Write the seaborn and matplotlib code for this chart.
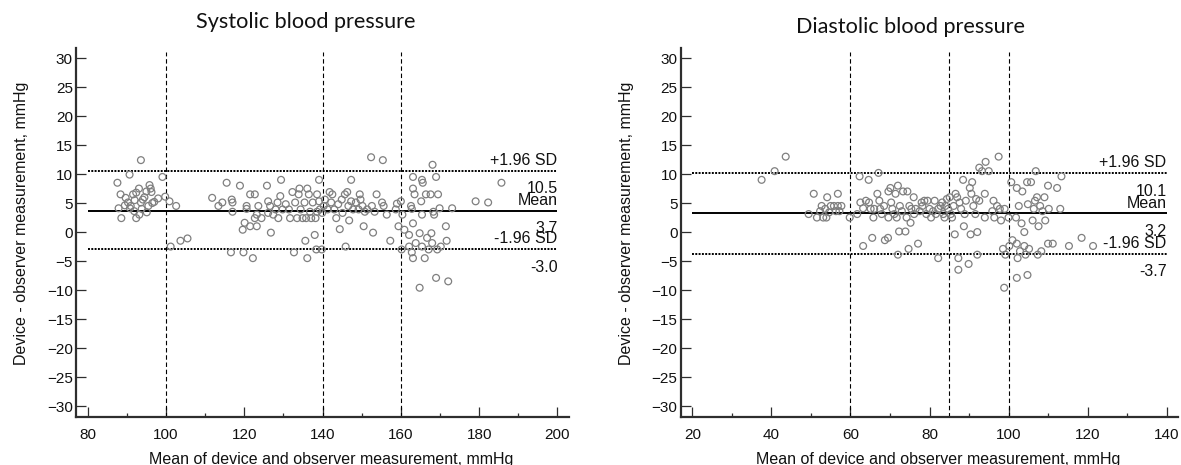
import matplotlib
matplotlib.use("Agg")
import matplotlib.pyplot as plt
import seaborn as sns
import numpy as np
import pandas as pd
from matplotlib.ticker import MultipleLocator

# ---------------- data ----------------
sys_mean = [87.6, 87.9, 88.4, 88.6, 90.7, 89.7, 90.3, 90.8, 91.6, 91.9, 92.4, 92.4, 93.1, 93.2,
            93.6, 93.6, 94.1, 95.1, 95.5, 95.8, 96.1, 96.3, 97.0, 98.0, 99.1, 99.8, 100.9, 101.2,
            102.6, 103.7, 105.5, 94.5, 92.0, 95.0, 91.0, 96.5, 89.5, 93.8,
            111.8, 113.4, 114.4, 115.5, 116.8, 117.0, 117.0, 116.6, 118.9, 119.6, 119.8, 120.1,
            120.6, 120.6, 121.5, 121.5, 122.2, 122.7, 122.7, 123.2, 123.2, 123.6, 124.4, 125.8,
            126.1, 126.1, 126.8, 126.6, 127.4, 128.0, 128.5, 128.7, 129.2, 129.4, 129.8, 130.6,
            131.4, 131.7, 132.3, 132.7, 133.0, 133.5, 133.9, 134.1, 134.4, 134.9, 135.4, 135.6,
            135.8, 136.1, 136.1, 136.5, 136.8, 137.1, 137.5, 138.0, 138.2, 138.4, 138.6, 138.6,
            139.1, 139.1, 139.3, 139.8, 139.9, 140.3, 140.6, 141.3, 141.8, 142.2, 142.5, 143.0,
            143.5, 144.0, 144.4, 144.9, 145.1, 145.7, 145.9, 146.3, 146.6, 146.8, 147.3, 147.3,
            147.8, 148.5, 149.2, 149.5, 149.7, 150.2, 150.5, 150.8, 151.4, 152.4, 152.6, 152.9,
            153.3, 153.8, 155.4, 155.2, 155.6, 156.4, 157.3, 158.7, 159.0, 159.4, 160.0, 160.2,
            160.4, 160.9, 162.1, 162.6, 162.8, 163.1, 163.1, 163.1, 163.1, 163.5, 162.1, 162.8,
            163.8, 164.8, 164.8, 165.2, 165.4, 165.6, 165.4, 165.4, 166.1, 166.4, 166.7, 167.1,
            167.6, 167.8, 168.0, 168.1, 168.3, 168.5, 169.0, 169.0, 169.3, 169.5, 169.9, 170.2,
            171.5, 171.7, 172.1, 173.1, 179.1, 182.3, 185.7]
sys_diff = [8.5, 4.1, 6.5, 2.4, 9.9, 5.9, 5.1, 4.1, 6.5, 3.6, 6.8, 2.4, 7.5, 3.0,
            12.4, 5.1, 5.6, 3.4, 4.5, 8.1, 7.5, 6.9, 5.2, 5.8, 9.5, 6.1, 5.3, -2.5,
            4.5, -1.5, -1.1, 6.0, 5.5, 7.0, 4.5, 5.0, 4.6, 4.0,
            5.9, 4.5, 5.1, 8.5, 5.6, 5.1, 3.5, -3.5, 8.0, 0.4, -3.5, 1.6,
            4.5, 4.0, 6.5, 1.0, -4.5, 6.5, 2.4, 1.0, 3.0, 4.5, 2.4, 8.0,
            5.3, 3.3, -0.1, 4.5, 3.0, 3.9, 5.1, 2.4, 6.2, 9.0, 3.9, 4.8,
            3.9, 2.4, 6.9, -3.5, 5.1, 2.4, 6.5, 7.5, 3.9, 2.4, 5.1, -1.5,
            2.4, 7.5, -4.5, 6.5, 3.5, 2.4, 5.1, -0.5, 2.4, -3.0, 6.5, 3.5,
            9.0, 5.3, 3.9, -3.0, 3.3, 4.5, 5.6, 3.9, 6.9, 5.1, 6.5, 3.9,
            2.4, 4.8, 0.5, 5.6, 3.3, 6.5, -2.5, 6.9, 4.5, 2.0, 9.0, 5.3,
            3.9, 5.1, 3.9, 6.5, 5.6, 4.5, 1.0, 3.5, 3.9, 12.9, 4.5, -0.1,
            3.5, 6.5, 12.4, 5.1, 4.5, 3.0, -1.5, 3.9, 4.9, 1.0, 5.3, -3.0,
            3.0, 0.4, -0.5, 4.5, 4.0, 9.5, 7.5, 1.5, -4.5, 6.5, -2.5, -3.5,
            -1.9, -0.2, -9.6, 5.3, 9.0, 8.5, 3.0, -2.5, -4.5, 6.5, -1.0, -3.0,
            6.5, -0.2, -1.9, 11.6, 3.5, 3.0, 9.5, -7.9, -3.0, 6.5, 4.1, -2.5,
            1.0, -1.5, -8.5, 4.1, 5.3, 5.1, 8.5]

dia_mean = [37.5, 40.8, 43.6, 49.4, 50.7, 51.5, 52.3, 52.7, 53.1, 53.6, 53.9, 54.1, 54.6, 55.0,
            55.8, 56.3, 56.8, 56.8, 57.2, 57.7, 59.8, 61.7, 62.3, 62.5, 63.2, 63.2, 63.9, 64.6,
            64.7, 65.1, 65.5, 65.8, 66.0, 66.8, 67.1, 67.3, 67.5, 67.9, 68.5, 68.7, 69.5, 69.6,
            69.6, 70.1, 70.3, 70.6, 71.1, 71.4, 71.7, 72.0, 72.0, 72.3, 72.5, 73.0, 73.3, 73.9,
            74.2, 74.4, 74.7, 74.9, 75.2, 75.4, 76.0, 76.1, 76.5, 77.1, 77.5, 78.0, 78.2, 78.7,
            79.2, 79.5, 80.0, 80.4, 80.9, 81.3, 81.6, 82.2, 82.2, 82.8, 83.2, 83.5, 83.8, 84.0,
            84.4, 84.7, 85.1, 85.4, 85.7, 86.1, 86.4, 86.6, 87.0, 87.3, 87.3, 87.6, 88.0, 88.5,
            88.7, 88.9, 89.2, 89.9, 90.2, 90.4, 90.6, 90.8, 91.1, 91.6, 91.8, 92.1, 92.1, 92.6,
            92.6, 93.3, 94.0, 94.0, 94.2, 95.0, 95.9, 96.2, 96.4, 97.1, 97.5, 97.8, 98.1, 98.6,
            98.9, 99.0, 99.2, 100.0, 100.2, 100.7, 101.0, 101.9, 102.1, 102.1, 102.1, 102.3, 102.6,
            102.9, 103.3, 103.5, 104.0, 104.0, 104.3, 104.7, 104.8, 104.9, 105.2, 105.7, 106.1,
            106.4, 106.7, 106.9, 107.2, 107.4, 107.6, 108.0, 108.3, 108.6, 109.1, 109.3, 110.0,
            110.0, 110.2, 111.2, 112.3, 113.1, 113.4, 115.3, 118.5, 121.4]
dia_diff = [9.0, 10.5, 13.0, 3.1, 6.6, 2.5, 3.6, 4.5, 2.5, 4.0, 2.5, 6.0, 3.4, 4.5,
            4.5, 3.6, 6.6, 4.5, 3.6, 4.5, 2.5, 3.1, 9.6, 5.1, 4.1, -2.4, 5.4, 9.0,
            5.1, 4.0, -1.0, 2.5, 4.0, 6.6, 10.2, 5.4, 4.0, 3.1, 4.5, -1.4, -1.0, 7.0,
            2.5, 7.6, 5.1, 4.0, 3.1, 6.6, 2.5, 8.0, -3.9, 0.1, 4.5, 3.6, 7.0, 0.1,
            2.5, 7.0, -2.9, 4.5, 1.6, 4.0, 6.0, 3.1, 4.0, -2.0, 3.6, 5.1, 4.5, 5.4,
            3.1, 5.4, 4.0, 2.5, 3.6, 5.4, 3.1, -4.5, 4.0, 4.5, 5.1, 3.1, 2.5, 4.5,
            5.7, 4.0, 6.0, 3.1, 2.5, 4.5, -0.4, 6.6, 6.0, -4.5, -6.5, 5.1, 4.0, 9.0,
            1.0, 3.1, 5.4, -5.5, 7.6, -0.4, 6.6, 8.6, 4.5, 3.1, 5.7, 0.0, -3.9, 11.1,
            5.4, 10.5, 6.6, 2.5, 12.1, 10.5, 3.6, 5.4, 2.5, 4.5, 13.0, 4.0, 2.0, -2.9,
            -9.6, 4.0, -3.9, 2.5, -2.4, 8.6, -1.4, 2.5, 7.6, -7.9, -2.0, -4.5, 4.5,
            -3.3, 1.5, 7.0, 0.0, -2.4, -3.9, 8.6, -7.4, 4.8, -2.9, 8.6, 2.0,
            4.0, 5.4, 10.5, 6.0, -3.9, 1.0, 4.5, -3.3, 3.6, 6.0, 2.0, 8.0,
            -2.0, 4.0, -2.0, 7.6, 4.0, 9.6, -2.4, -1.0, -2.4]

titles = ["Systolic blood pressure", "Diastolic blood pressure"]
sys_limits = [10.5, 3.7, -3.0]
dia_limits = [10.1, 3.2, -3.7]
limit_names = ["+1.96 SD", "Mean", "-1.96 SD"]
sys_vlines = [100, 140, 160]
dia_vlines = [60, 85, 100]
sys_xrange = (80, 200)
dia_xrange = (20, 140)
y_label = "Device - observer measurement, mmHg"
x_label = "Mean of device and observer measurement, mmHg"

# ---------------- style ----------------
sns.set_style("ticks")
plt.rcParams["font.family"] = ["Liberation Sans", "DejaVu Sans"]

W, H = 1181, 465
fig = plt.figure(figsize=(W / 100, H / 100), dpi=100)
ax1 = fig.add_axes([76.3 / W, (H - 416.8) / H, 492.5 / W, 369.2 / H])
ax2 = fig.add_axes([681 / W, (H - 416.8) / H, 497 / W, 369.2 / H])

spine_col = "#2e2e2e"
panels = [
    (ax1, sys_mean, sys_diff, sys_limits, sys_vlines, sys_xrange, titles[0], (306, 28)),
    (ax2, dia_mean, dia_diff, dia_limits, dia_vlines, dia_xrange, titles[1], (910, 33)),
]

for ax, xm, yd, lims, vls, xr, title, tpos in panels:
    df = pd.DataFrame({"m": xm, "d": yd})
    sns.scatterplot(data=df, x="m", y="d", ax=ax, marker="o", s=24,
                    facecolor="none", edgecolor="#7f7f7f", linewidth=0.9, zorder=3)
    pad = (xr[1] - xr[0]) * 0.0242
    ax.set_xlim(xr[0] - pad, xr[1] + pad)
    ax.set_ylim(-31.85, 31.8)

    # vertical reference lines
    ax.vlines(vls, -31.85, 31.0, colors="black", linestyles=(0, (4, 2.5)), linewidth=0.8, zorder=2)
    # horizontal lines
    ax.hlines(lims[0], xr[0], xr[1], colors="black", linestyles=(0, (1, 0.7)), linewidth=1.4, zorder=2)
    ax.hlines(lims[1], xr[0], xr[1], colors="black", linestyles="solid", linewidth=1.4, zorder=2)
    ax.hlines(lims[2], xr[0], xr[1], colors="black", linestyles=(0, (1, 0.7)), linewidth=1.4, zorder=2)

    for name, val in zip(limit_names, lims):
        ax.annotate(name, xy=(xr[1], val), xytext=(0, 4.3), textcoords="offset points",
                    ha="right", va="baseline", fontsize=11.5, color="#111111")
        ax.annotate(f"{val:.1f}", xy=(xr[1], val), xytext=(0, -7.3), textcoords="offset points",
                    ha="right", va="top", fontsize=11.5, color="#111111")

    ax.xaxis.set_major_locator(MultipleLocator(20))
    ax.xaxis.set_minor_locator(MultipleLocator(10))
    ax.yaxis.set_major_locator(MultipleLocator(5))
    ax.tick_params(axis="both", which="major", direction="in", length=7, width=0.9,
                   color=spine_col, labelsize=11, labelcolor="#111111")
    ax.tick_params(axis="x", which="major", pad=8)
    ax.tick_params(axis="y", which="major", pad=2.5)
    ax.tick_params(axis="x", which="minor", direction="in", length=3, width=0.9, color=spine_col)

    for side in ["top", "right"]:
        ax.spines[side].set_visible(False)
    for side in ["left", "bottom"]:
        ax.spines[side].set_linewidth(1.6)
        ax.spines[side].set_color(spine_col)

    ax.set_xlabel(x_label, fontsize=11.5, color="#111111")
    ax.set_ylabel(y_label, fontsize=11.5, color="#111111")
    ax.xaxis.set_label_coords(0.517, -0.095)
    ax.yaxis.set_label_coords(-0.097 if ax is ax1 else -0.095, 0.524)
    ax.xaxis.label.set_va("top")

    fig.text(tpos[0] / W, 1 - tpos[1] / H, title, ha="center", va="baseline",
             fontsize=15.6, family=["Lato", "DejaVu Sans"], color="#111111")

fig.savefig("out.png", dpi=100)
